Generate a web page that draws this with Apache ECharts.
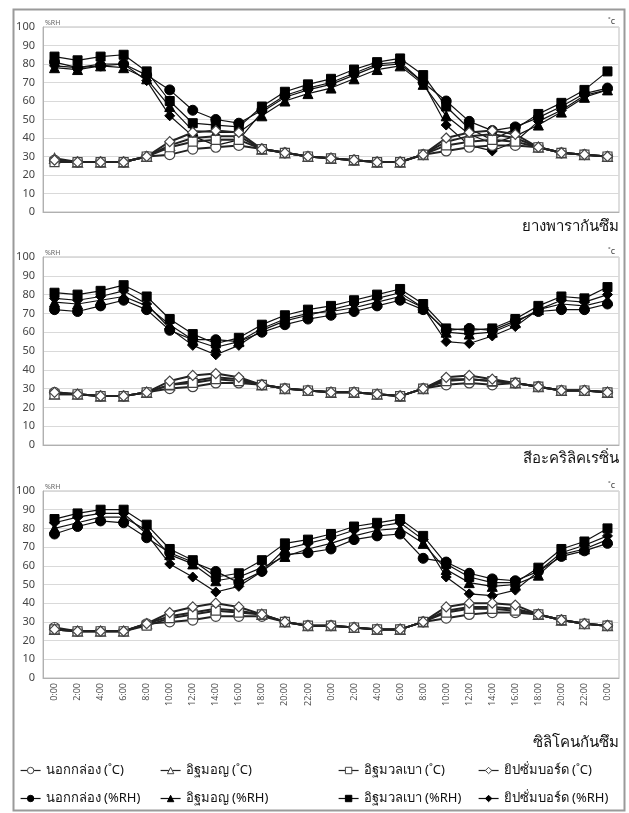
<!DOCTYPE html>
<html>
<head>
<meta charset="utf-8">
<script src="https://cdn.jsdelivr.net/npm/echarts@6/dist/echarts.min.js"></script>
<style>
html,body{margin:0;padding:0;background:#fff;}
#chart{width:629px;height:813px;}
</style>
</head>
<body>
<div id="chart"></div>
<script>
// ---- categories (x tick labels) ----
const times = ['0:00','2:00','4:00','6:00','8:00','10:00','12:00','14:00','16:00','18:00','20:00','22:00',
               '0:00','2:00','4:00','6:00','8:00','10:00','12:00','14:00','16:00','18:00','20:00','22:00','0:00'];
const yTicks = [0,10,20,30,40,50,60,70,80,90,100];

// ---- series names ----
const names = ['นอกกล่อง (˚C)','อิฐมอญ (˚C)','อิฐมวลเบา (˚C)','ยิปซั่มบอร์ด (˚C)',
               'นอกกล่อง (%RH)','อิฐมอญ (%RH)','อิฐมวลเบา (%RH)','ยิปซั่มบอร์ด (%RH)'];
const panelTitles = ['ยางพารากันซึม','สีอะคริลิคเรซิ่น','ซิลิโคนกันซึม'];

// ---- Panel 1: ยางพารากันซึม ----
const p1TempOut   = [28,27,27,27,30,31,34,35,36,34,32,30,29,28,27,27,31,33,35,36,36,35,32,31,30];
const p1TempBrick = [29,27,27,27,30,36,40,41,41,34,32,30,29,28,27,27,31,38,41,42,40,35,32,31,30];
const p1TempLight = [27,27,27,27,30,35,38,39,39,34,32,30,29,28,27,27,31,36,38,39,38,35,32,31,30];
const p1TempGyp   = [28,27,27,27,30,38,43,44,43,34,32,30,29,28,27,27,31,40,43,44,42,35,32,31,30];
const p1HumOut    = [81,78,79,80,74,66,55,50,48,55,63,67,70,75,80,81,70,60,49,44,46,51,57,64,67];
const p1HumBrick  = [78,77,79,78,72,57,44,43,43,52,60,64,67,72,77,79,69,52,42,37,41,47,54,62,66];
const p1HumLight  = [84,82,84,85,76,60,48,47,46,57,65,69,72,77,81,83,74,57,45,39,45,53,59,66,76];
const p1HumGyp    = [79,78,80,80,71,52,41,36,39,54,62,66,69,74,79,80,70,47,36,33,38,49,55,63,66];

// ---- Panel 2: สีอะคริลิคเรซิ่น ----
const p2TempOut   = [28,27,26,26,28,30,31,33,33,32,30,29,28,28,27,26,30,32,33,32,33,31,29,29,28];
const p2TempBrick = [27,27,26,26,28,32,34,36,35,32,30,29,28,28,27,26,30,35,35,34,33,31,29,29,28];
const p2TempLight = [27,27,26,26,28,32,33,35,34,32,30,29,28,28,27,26,30,34,35,34,33,31,29,29,28];
const p2TempGyp   = [28,27,26,26,28,34,37,38,36,32,30,29,28,28,27,26,30,36,37,35,33,31,29,29,28];
const p2HumOut    = [72,71,74,77,72,61,56,56,55,60,64,67,69,71,74,77,72,61,62,61,66,71,72,72,75];
const p2HumBrick  = [76,75,77,79,74,64,56,52,55,62,67,70,71,73,76,79,73,60,59,60,65,72,75,74,77];
const p2HumLight  = [81,80,82,85,79,67,59,54,57,64,69,72,74,77,80,83,75,62,61,62,67,74,79,78,84];
const p2HumGyp    = [78,77,79,82,75,62,53,48,53,61,66,69,72,75,78,81,73,55,54,58,63,72,77,76,80];

// ---- Panel 3: ซิลิโคนกันซึม ----
const p3TempOut   = [27,25,25,25,29,30,31,33,33,33,30,28,28,27,26,26,30,32,34,35,35,34,31,29,28];
const p3TempBrick = [26,25,25,25,29,33,35,37,36,34,30,28,28,27,26,26,30,36,38,38,37,34,31,29,28];
const p3TempLight = [26,25,25,25,28,32,34,36,35,34,30,28,28,27,26,26,30,35,37,37,36,34,31,29,28];
const p3TempGyp   = [26,25,25,25,29,35,38,40,38,34,30,28,28,27,26,26,30,38,40,40,39,34,31,29,28];
const p3HumOut    = [77,81,84,83,75,67,62,57,51,57,66,67,69,74,76,77,64,62,56,53,52,57,65,68,72];
const p3HumBrick  = [80,83,86,86,79,66,61,52,54,59,65,69,72,76,79,80,72,58,51,49,50,55,66,69,74];
const p3HumLight  = [85,88,90,90,82,69,63,54,56,63,72,74,77,81,83,85,76,61,54,51,51,59,69,73,80];
const p3HumGyp    = [83,86,88,88,77,61,54,46,49,57,69,72,75,79,81,83,74,54,45,44,47,57,67,71,76];

const panels = [
  [p1TempOut,p1TempBrick,p1TempLight,p1TempGyp,p1HumOut,p1HumBrick,p1HumLight,p1HumGyp],
  [p2TempOut,p2TempBrick,p2TempLight,p2TempGyp,p2HumOut,p2HumBrick,p2HumLight,p2HumGyp],
  [p3TempOut,p3TempBrick,p3TempLight,p3TempGyp,p3HumOut,p3HumBrick,p3HumLight,p3HumGyp]
];

// ---- styling / layout ----
const FONT = "'Noto Sans', 'DejaVu Sans', sans-serif";
const symbols = ['circle','triangle','rect','diamond','circle','triangle','rect','diamond'];
const symSizes = [10,10,9,10,10,10,9,10];
const gridTops = [27, 257, 491];
const gridHeights = [185, 188, 187];
const titleY = [229, 461, 745];

const grids = [], xAxes = [], yAxes = [], series = [];
panels.forEach((arrs, p) => {
  grids.push({left:43, right:10, top:gridTops[p], height:gridHeights[p], show:true,
              borderColor:'#bdbdbd', borderWidth:1, backgroundColor:'#fff'});
  xAxes.push({type:'category', gridIndex:p, data:times, boundaryGap:true,
    axisTick:{show:false},
    axisLine:{lineStyle:{color:'#b0b0b0', width:1}},
    axisLabel:{show:p===2, rotate:90, fontSize:9, color:'#555', margin:5, interval:0, fontFamily:FONT}});
  yAxes.push({type:'value', gridIndex:p, min:0, max:100, interval:10,
    axisLine:{show:true, lineStyle:{color:'#b0b0b0'}},
    axisTick:{show:false},
    splitLine:{lineStyle:{color:'#d9d9d9', width:1}},
    axisLabel:{fontSize:11, color:'#444', margin:8, fontFamily:FONT,
      formatter: v => yTicks.includes(v) ? String(v) : ''}});
  arrs.forEach((arr, k) => {
    const isTemp = k < 4;
    series.push({
      type:'line', name:names[k], xAxisIndex:p, yAxisIndex:p, data:arr,
      symbol:symbols[k], symbolSize:symSizes[k], animation:false,
      z: isTemp ? 3 : 2,
      lineStyle:{color: isTemp ? '#222' : '#111', width: isTemp ? 2 : 1.2},
      itemStyle: isTemp ? {color:'#fff', borderColor:'#444', borderWidth:1.2}
                        : {color:'#000', borderColor:'#000', borderWidth:1}
    });
  });
});

const legendLeft = [20, 160, 338, 478];
const legendTop = [762, 790];
const legends = names.map((n, k) => ({
  data:[n], left: legendLeft[k % 4], top: legendTop[Math.floor(k / 4)],
  itemWidth:20, itemHeight:8, itemGap:0, selectedMode:false, padding:[2,0,2,0],
  itemStyle:{borderWidth:1},
  lineStyle:{width:1.2},
  textStyle:{fontSize:13, color:'#111', fontFamily:FONT}
}));

const graphics = [
  {type:'rect', shape:{x:13.5, y:9.5, width:611, height:801}, style:{fill:null, stroke:'#9a9a9a', lineWidth:2}, silent:true, z:-1}
];
panelTitles.forEach((t, p) => {
  graphics.push({type:'text', right:10, top:titleY[p]-10,
    style:{text:t, fontSize:15, fill:'#111', fontFamily:FONT}});
  graphics.push({type:'text', left:45, top:gridTops[p]-8,
    style:{text:'%RH', fontSize:7, fill:'#666', fontFamily:FONT}});
  graphics.push({type:'text', left:608, top:gridTops[p]-10,
    style:{text:'˚c', fontSize:9, fill:'#444', fontFamily:FONT}});
});

const chart = echarts.init(document.getElementById('chart'), null, {renderer:'canvas'});
chart.setOption({
  backgroundColor:'#fff',
  animation:false,
  grid:grids, xAxis:xAxes, yAxis:yAxes, series:series,
  legend:legends,
  graphic:graphics
});
</script>
</body>
</html>
